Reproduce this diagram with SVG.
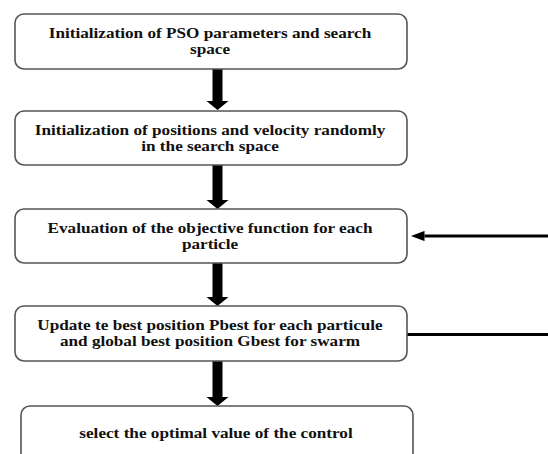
<svg xmlns="http://www.w3.org/2000/svg" width="548" height="454" viewBox="0 0 548 454">
<defs>
<style>
.box{fill:#fff;stroke:#555;stroke-width:1.6}
.t{font-weight:bold;font-size:14.2px;fill:#111;text-anchor:middle}
.shaft{fill:#000}
.line{stroke:#000;stroke-width:3;fill:none}
</style>
<marker id="ah" markerWidth="4.5" markerHeight="3.4" refX="0" refY="1.7" orient="auto" markerUnits="strokeWidth">
<path d="M0,0 L4.5,1.7 L0,3.4 Z" fill="#000"/>
</marker>
</defs>
<rect width="548" height="454" fill="#fff"/>
<g id="connectors">
<path class="shaft" d="M212.5,69 H222.5 V101 H228.5 L217.5,110 L206.5,101 H212.5 Z"/>
<path class="shaft" d="M212.5,165 H222.5 V200 H228.5 L217.5,209 L206.5,200 H212.5 Z"/>
<path class="shaft" d="M212.5,263 H222.5 V297 H228.5 L217.5,306 L206.5,297 H212.5 Z"/>
<path class="shaft" d="M212.5,361 H222.5 V397 H228.5 L217.5,406 L206.5,397 H212.5 Z"/>
<line class="line" x1="548" y1="236" x2="424.5" y2="236" marker-end="url(#ah)"/>
<line class="line" x1="407" y1="334.5" x2="548" y2="334.5"/>
</g>
<g font-family="Liberation Serif, Times New Roman, serif">
<g id="n1">
<rect class="box" x="15" y="14" width="392" height="55" rx="9"/>
<text class="t" transform="translate(210,38) scale(1.21,1)">Initialization of PSO parameters and search</text>
<text class="t" transform="translate(210,54) scale(1.21,1)">space</text>
</g>
<g id="n2">
<rect class="box" x="15" y="111" width="392" height="54" rx="9"/>
<text class="t" transform="translate(210,135) scale(1.21,1)">Initialization of positions and velocity randomly</text>
<text class="t" transform="translate(210,151) scale(1.21,1)">in the search space</text>
</g>
<g id="n3">
<rect class="box" x="15" y="209" width="392" height="54" rx="9"/>
<text class="t" transform="translate(210,232.5) scale(1.21,1)">Evaluation of the objective function for each</text>
<text class="t" transform="translate(210,248.5) scale(1.21,1)">particle</text>
</g>
<g id="n4">
<rect class="box" x="15" y="306" width="392" height="55" rx="9"/>
<text class="t" transform="translate(210,330) scale(1.21,1)">Update te best position Pbest for each particule</text>
<text class="t" transform="translate(210,346) scale(1.21,1)">and global best position Gbest for swarm</text>
</g>
<g id="n5">
<rect class="box" x="21" y="406" width="392" height="62" rx="9"/>
<text class="t" transform="translate(216,438) scale(1.21,1)">select the optimal value of the control</text>
</g>
</g>
</svg>
